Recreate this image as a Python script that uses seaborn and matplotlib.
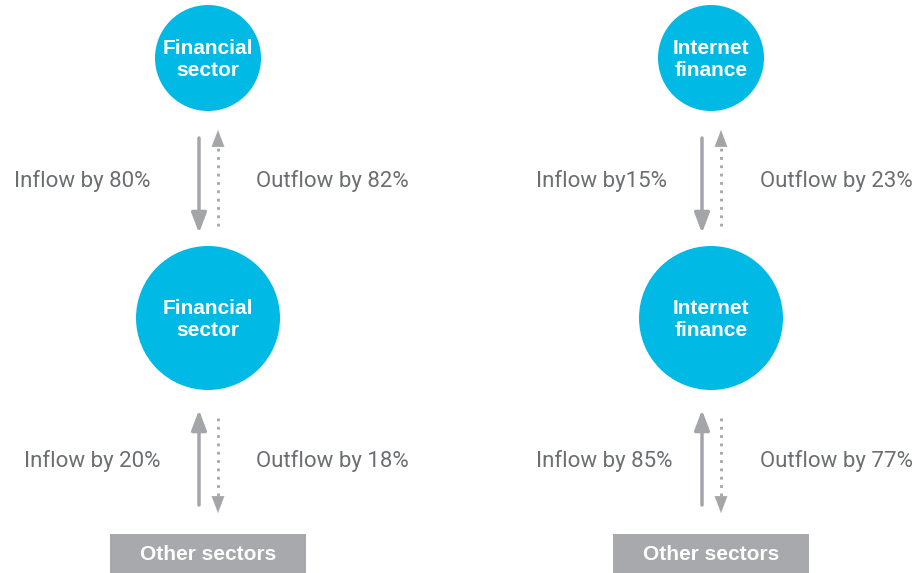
import matplotlib.pyplot as plt
import matplotlib.patches as mpatches
import seaborn as sns

# data
columns = ["Financial\nsector", "Internet\nfinance"]
bottom_label = "Other sectors"
top_inflow = [80, 15]
top_outflow = [82, 23]
bottom_inflow = [20, 85]
bottom_outflow = [18, 77]
inflow_fmt = ["Inflow by {}%", "Inflow by{}%"]

sns.set_theme(style="white")
plt.rcParams["font.family"] = ["Roboto", "DejaVu Sans"]

CYAN = "#00b9e4"
GREY = "#a7a9ac"
ARROW = "#a3a5a8"
TEXT = "#6d6e71"
BOLD = ["Liberation Sans", "DejaVu Sans"]

fig = plt.figure(figsize=(9.18, 5.73), dpi=100)
ax = fig.add_axes([0, 0, 1, 1])
ax.set_xlim(0, 918)
ax.set_ylim(573, 0)
ax.set_aspect("equal")
ax.axis("off")

col_x = [208, 711]
in_left = [[14, 24], [536, 536]]
out_left = [256, 760]


def solid_arrow(x, y0, y1):
    ax.annotate("", xy=(x, y1), xytext=(x, y0),
                arrowprops=dict(arrowstyle="-|>,head_length=1.0,head_width=0.38",
                                color=ARROW, lw=2.5, shrinkA=0, shrinkB=0))


def dotted_arrow(x, y0, y1):
    d = 1 if y1 > y0 else -1
    ax.plot([x, x], [y0, y1 - d * 12], color=ARROW, lw=2, ls=(0, (1, 2)))
    ax.annotate("", xy=(x, y1), xytext=(x, y1 - d * 15),
                arrowprops=dict(arrowstyle="-|>,head_length=1.0,head_width=0.38",
                                color=ARROW, lw=0.1, shrinkA=0, shrinkB=0))


for i, cx in enumerate(col_x):
    ax.add_patch(mpatches.Circle((cx, 58), 53, color=CYAN, lw=0))
    ax.text(cx, 59.5, columns[i], color="white", fontsize=15, fontweight="bold",
            family=BOLD, ha="center", va="center", linespacing=1.2)
    ax.add_patch(mpatches.Circle((cx, 318), 72, color=CYAN, lw=0))
    ax.text(cx, 319.5, columns[i], color="white", fontsize=15, fontweight="bold",
            family=BOLD, ha="center", va="center", linespacing=1.2)

    # top exchange
    solid_arrow(cx - 9, 138, 233)
    dotted_arrow(cx + 10, 226, 130)
    ax.text(in_left[i][0], 181, inflow_fmt[i].format(top_inflow[i]),
            color=TEXT, fontsize=16, ha="left", va="center")
    ax.text(out_left[i], 181, f"Outflow by {top_outflow[i]}%",
            color=TEXT, fontsize=16, ha="left", va="center")

    # bottom exchange
    solid_arrow(cx - 9, 505, 410)
    dotted_arrow(cx + 10, 418, 513)
    ax.text(in_left[i][1], 461, f"Inflow by {bottom_inflow[i]}%",
            color=TEXT, fontsize=16, ha="left", va="center")
    ax.text(out_left[i], 461, f"Outflow by {bottom_outflow[i]}%",
            color=TEXT, fontsize=16, ha="left", va="center")

    ax.add_patch(mpatches.Rectangle((cx - 98, 534), 196, 40, color=GREY, lw=0))
    ax.text(cx, 554, bottom_label, color="white", fontsize=15, fontweight="bold",
            family=BOLD, ha="center", va="center")

fig.savefig("out.png", dpi=100)
